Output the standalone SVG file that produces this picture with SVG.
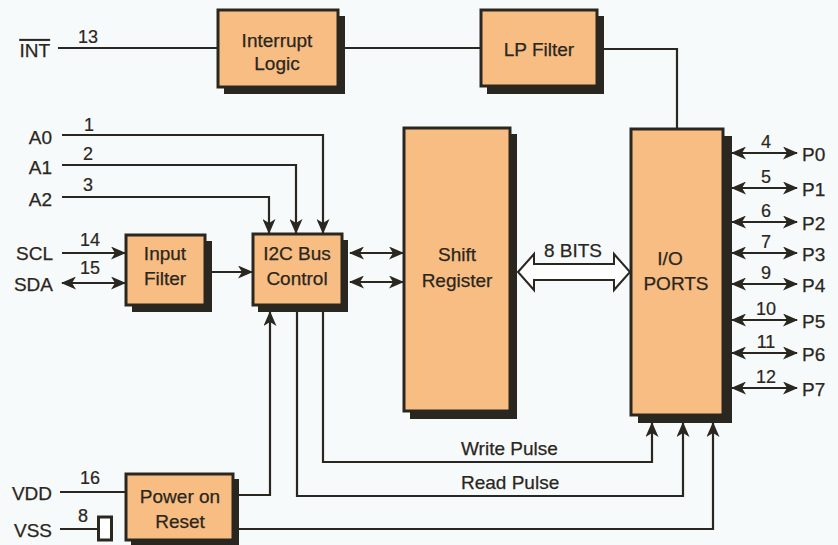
<svg xmlns="http://www.w3.org/2000/svg" width="838" height="545" viewBox="0 0 838 545">
<style>
.bx{fill:#f7bd82;stroke:#2a2620;stroke-width:3}
.sh{fill:#2a2620}
.t{font-family:"Liberation Sans",Arial,sans-serif;font-size:19px;fill:#2a2620;stroke:#2a2620;stroke-width:0.25}
.m{text-anchor:middle}
.e{text-anchor:end}
.n{font-family:"Liberation Sans",Arial,sans-serif;font-size:18px;fill:#2a2620;text-anchor:middle;stroke:#2a2620;stroke-width:0.2}
.w{fill:none;stroke:#2a2620;stroke-width:2.2}
.a{marker-end:url(#ah)}
.d{marker-end:url(#ah);marker-start:url(#ah)}
</style>
<defs>
<marker id="ah" viewBox="0 -6.5 15 13" markerWidth="15" markerHeight="13" refX="14" refY="0" orient="auto-start-reverse" markerUnits="userSpaceOnUse">
<path d="M0,-6.5 L15,0 L0,6.5 L4,0 Z" fill="#2a2620"/>
</marker>
</defs>
<rect width="838" height="545" fill="#f7fafb"/>

<g id="connectors">
<path class="w" d="M58,48 H217"/>
<path class="w" d="M338,48 H480"/>
<path class="w" d="M597,49 H677 V128"/>
<path class="w a" d="M62,135 H323 V233"/>
<path class="w a" d="M62,165 H296 V233"/>
<path class="w a" d="M62,197 H269 V233"/>
<path class="w a" d="M62,253 H125"/>
<path class="w d" d="M62,283 H125"/>
<path class="w a" d="M205,272 H252"/>
<path class="w d" d="M350,253 H403"/>
<path class="w d" d="M350,282 H403"/>
<path d="M518,272 L534,254 L534,264 L614,264 L614,254 L630,272 L614,290 L614,280 L534,280 L534,290 Z" fill="#ffffff" stroke="#2a2620" stroke-width="2" stroke-linejoin="miter"/>
<path class="w d" d="M732,153 H797"/>
<path class="w d" d="M732,188 H797"/>
<path class="w d" d="M732,222 H797"/>
<path class="w d" d="M732,253 H797"/>
<path class="w d" d="M732,284 H797"/>
<path class="w d" d="M732,320 H797"/>
<path class="w d" d="M732,353 H797"/>
<path class="w d" d="M732,388 H797"/>
<path class="w" d="M60,492 H125"/>
<path class="w" d="M60,529 H98"/>
<rect x="98.5" y="517" width="13" height="23" fill="#ffffff" stroke="#2a2620" stroke-width="3"/>
<path class="w a" d="M233,495 H270 V312"/>
<path class="w a" d="M323,305 V462 H652 V423"/>
<path class="w a" d="M297,305 V496 H683 V423"/>
<path class="w a" d="M233,529 H713 V423"/>
</g>

<g id="interrupt-logic">
<rect class="sh" x="224" y="16" width="121" height="78"/>
<rect class="bx" x="218" y="10" width="120" height="77"/>
<text class="t m" x="277" y="47">Interrupt</text>
<text class="t m" x="277" y="70">Logic</text>
</g>
<g id="lp-filter">
<rect class="sh" x="487" y="16" width="117" height="78"/>
<rect class="bx" x="481" y="10" width="116" height="76"/>
<text class="t m" x="539" y="56">LP Filter</text>
</g>
<g id="input-filter">
<rect class="sh" x="132" y="241" width="80" height="71"/>
<rect class="bx" x="126" y="235" width="79" height="70"/>
<text class="t m" x="165" y="260">Input</text>
<text class="t m" x="165" y="285">Filter</text>
</g>
<g id="i2c-bus-control">
<rect class="sh" x="258" y="240" width="90" height="72"/>
<rect class="bx" x="253" y="234" width="89" height="71"/>
<text class="t m" x="297" y="260">I2C Bus</text>
<text class="t m" x="297" y="285">Control</text>
</g>
<g id="shift-register">
<rect class="sh" x="410" y="134" width="107" height="285"/>
<rect class="bx" x="404" y="128" width="106" height="283"/>
<text class="t m" x="457" y="261">Shift</text>
<text class="t m" x="457" y="287">Register</text>
</g>
<g id="io-ports">
<rect class="sh" x="638" y="136" width="94" height="287"/>
<rect class="bx" x="631" y="129" width="92" height="286"/>
<text class="t m" x="670" y="265">I/O</text>
<text class="t m" x="676" y="290">PORTS</text>
</g>
<g id="power-on-reset">
<rect class="sh" x="131" y="479" width="108" height="70"/>
<rect class="bx" x="126" y="474" width="107" height="66"/>
<text class="t m" x="180" y="503">Power on</text>
<text class="t m" x="180" y="528">Reset</text>
</g>

<g id="labels">
<text class="t e" x="50" y="57" text-decoration="overline">INT</text>
<text class="t e" x="52" y="144">A0</text>
<text class="t e" x="52" y="174">A1</text>
<text class="t e" x="52" y="206">A2</text>
<text class="t e" x="53" y="260">SCL</text>
<text class="t e" x="53" y="291">SDA</text>
<text class="t e" x="52" y="500">VDD</text>
<text class="t e" x="52" y="537">VSS</text>
<text class="n" x="88" y="43">13</text>
<text class="n" x="89" y="131">1</text>
<text class="n" x="88" y="160">2</text>
<text class="n" x="88" y="191">3</text>
<text class="n" x="90" y="246">14</text>
<text class="n" x="90" y="274">15</text>
<text class="n" x="90" y="484">16</text>
<text class="n" x="83" y="522">8</text>
<text class="t m" x="573" y="257">8 BITS</text>
<text class="n" x="766" y="148">4</text>
<text class="n" x="766" y="183">5</text>
<text class="n" x="766" y="217">6</text>
<text class="n" x="766" y="248">7</text>
<text class="n" x="766" y="279">9</text>
<text class="n" x="766" y="315">10</text>
<text class="n" x="766" y="348">11</text>
<text class="n" x="766" y="383">12</text>
<text class="t" x="802" y="161">P0</text>
<text class="t" x="802" y="196">P1</text>
<text class="t" x="802" y="230">P2</text>
<text class="t" x="802" y="261">P3</text>
<text class="t" x="802" y="292">P4</text>
<text class="t" x="802" y="328">P5</text>
<text class="t" x="802" y="361">P6</text>
<text class="t" x="802" y="396">P7</text>
<text class="t" x="461" y="455">Write Pulse</text>
<text class="t" x="461" y="489">Read Pulse</text>
</g>
</svg>
